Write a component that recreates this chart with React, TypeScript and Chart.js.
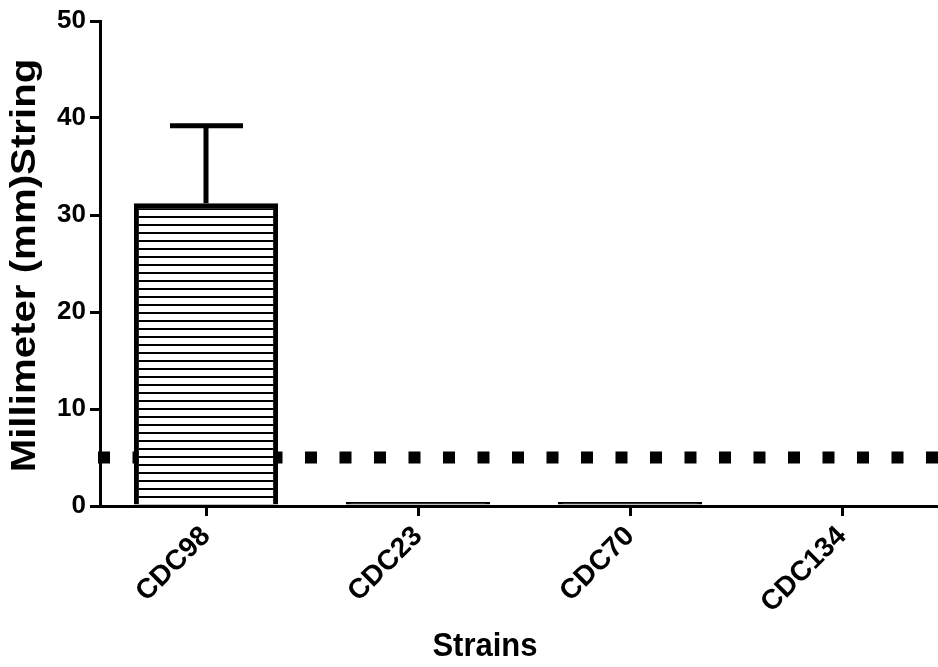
import React, { useEffect, useRef } from "react";
import { Chart, registerables } from "chart.js";

Chart.register(...registerables);

const categories = ["CDC98", "CDC23", "CDC70", "CDC134"];
const meanValues = [31.2, 0.4, 0.4, 0];
const errorValues = [8.0, 0, 0, 0];
const thresholdValue = 5;
const yTicks = [0, 10, 20, 30, 40, 50];
const yTitle = "Millimeter (mm)String";
const xTitle = "Strains";

const FONT = "'Liberation Sans', Arial, sans-serif";

function makeHatch(): CanvasPattern | string {
  const c = document.createElement("canvas");
  c.width = 8;
  c.height = 8;
  const g = c.getContext("2d");
  if (!g) return "#fff";
  g.fillStyle = "#ffffff";
  g.fillRect(0, 0, 8, 8);
  g.fillStyle = "#000000";
  g.fillRect(0, 0, 8, 2);
  const p = g.createPattern(c, "repeat");
  return p || "#fff";
}

const thresholdPlugin = {
  id: "threshold",
  beforeDatasetsDraw(chart: any) {
    const { ctx, chartArea, scales } = chart;
    const y = scales.y.getPixelForValue(thresholdValue);
    ctx.save();
    ctx.strokeStyle = "#000";
    ctx.lineWidth = 12;
    ctx.lineCap = "butt";
    ctx.setLineDash([12, 22.5]);
    ctx.beginPath();
    ctx.moveTo(chartArea.left - 2, y);
    ctx.lineTo(chartArea.right, y);
    ctx.stroke();
    ctx.restore();
  },
};

const errorBarPlugin = {
  id: "errorBars",
  afterDatasetsDraw(chart: any) {
    const { ctx, scales } = chart;
    const meta = chart.getDatasetMeta(0);
    ctx.save();
    ctx.strokeStyle = "#000";
    ctx.lineWidth = 5;
    ctx.lineCap = "butt";
    meta.data.forEach((bar: any, i: number) => {
      const err = errorValues[i];
      if (!err) return;
      const x = bar.x;
      const yBar = scales.y.getPixelForValue(meanValues[i]);
      const yTop = scales.y.getPixelForValue(meanValues[i] + err);
      ctx.beginPath();
      ctx.moveTo(x, yBar);
      ctx.lineTo(x, yTop);
      ctx.moveTo(x - 36, yTop);
      ctx.lineTo(x + 37, yTop);
      ctx.stroke();
    });
    ctx.restore();
  },
};

const titlesPlugin = {
  id: "titles",
  afterDraw(chart: any) {
    const { ctx, chartArea } = chart;
    ctx.save();
    ctx.fillStyle = "#000";
    ctx.textAlign = "center";
    ctx.textBaseline = "middle";
    // x title
    ctx.save();
    ctx.translate(chartArea.left + (chartArea.right - chartArea.left) * 0.454, 647);
    ctx.scale(1, 1.1);
    ctx.font = `bold 31px ${FONT}`;
    ctx.fillText(xTitle, 0, 0);
    ctx.restore();
    // y title
    ctx.save();
    ctx.translate(25, (chartArea.top + chartArea.bottom) / 2 + 2);
    ctx.rotate(-Math.PI / 2);
    ctx.scale(1.15, 1);
    ctx.font = `bold 35px ${FONT}`;
    ctx.fillText(yTitle, 0, 0);
    ctx.restore();
    ctx.restore();
  },
};

export default function App() {
  const ref = useRef<HTMLCanvasElement | null>(null);
  useEffect(() => {
    document.body.style.margin = "0";
    document.body.style.overflow = "hidden";
    if (!ref.current) return;
    const hatch = makeHatch();
    const chart = new Chart(ref.current, {
      type: "bar",
      data: {
        labels: categories,
        datasets: [
          {
            data: meanValues,
            backgroundColor: ((c: any) => (meanValues[c.dataIndex] < 1 ? "#000" : hatch)) as any,
            borderColor: "#000",
            borderWidth: 5,
            barPercentage: 0.68,
            categoryPercentage: 1,
          },
        ],
      },
      options: {
        animation: false,
        responsive: true,
        maintainAspectRatio: false,
        layout: { padding: { top: 21, left: 0, right: 0, bottom: 0 } },
        plugins: { legend: { display: false }, tooltip: { enabled: false } },
        scales: {
          x: {
            grid: {
              display: true,
              drawOnChartArea: false,
              drawTicks: true,
              tickLength: 10,
              lineWidth: 3,
              color: "#000",
              offset: false,
            },
            border: { display: true, width: 3, color: "#000" },
            ticks: {
              color: "#000",
              maxRotation: 45,
              minRotation: 45,
              padding: 4,
              font: { family: FONT, weight: "bold", size: 28 },
            },
            afterFit(scale: any) {
              scale.height = 161;
            },
          },
          y: {
            min: 0,
            max: 50,
            afterBuildTicks(scale: any) {
              scale.ticks = yTicks.map((v) => ({ value: v }));
            },
            grid: {
              display: true,
              drawOnChartArea: false,
              drawTicks: true,
              tickLength: 10,
              lineWidth: 3,
              color: "#000",
            },
            border: { display: true, width: 3, color: "#000" },
            ticks: {
              color: "#000",
              padding: 4,
              font: { family: FONT, weight: "bold", size: 26 },
            },
            afterFit(scale: any) {
              scale.width = 100;
            },
          },
        },
      },
      plugins: [thresholdPlugin, errorBarPlugin, titlesPlugin],
    });
    return () => chart.destroy();
  }, []);
  return (
    <div style={{ position: "absolute", left: 0, top: 0, width: "948px", height: "667px" }}>
      <canvas ref={ref} />
    </div>
  );
}
